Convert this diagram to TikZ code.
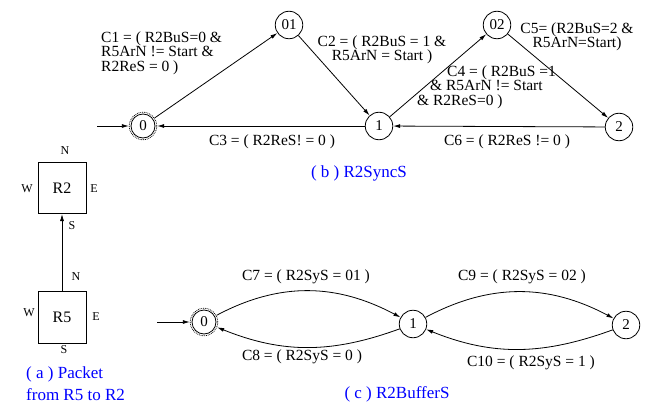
\documentclass[tikz,border=0pt]{standalone}
\usepackage{fontspec}
\setmainfont{Liberation Serif}
\newfontfamily\figfont{Liberation Serif}
\usetikzlibrary{arrows.meta}

\begin{document}
\begin{tikzpicture}[x=1pt,y=1pt,
  every node/.append style={font=\figfont},
  state/.style={draw,circle,inner sep=0pt,minimum size=27.5pt,line width=0.8pt,
    font=\figfont\fontsize{15}{15}\selectfont},
  startstate/.style={state,densely dotted},
  edge/.style={-{Latex[length=7pt,width=4pt]},line width=0.8pt},
  cond/.style={inner sep=0pt,font=\figfont\fontsize{15.5}{14.5}\selectfont},
  router/.style={draw,line width=1pt,minimum width=48pt,minimum height=51pt,
    font=\figfont\fontsize{16}{16}\selectfont},
  port/.style={inner sep=0pt,font=\figfont\fontsize{12}{12}\selectfont},
  caption/.style={inner sep=0pt,text=blue,font=\figfont\fontsize{17}{22}\selectfont}]
\useasboundingbox (0,0) rectangle (650,405);

%%% (a) packet from R5 to R2
\node[router] (r2) at (62,217) {R2};
\node[router,minimum height=52pt] (r5) at (62,88) {R5};
\node[port] (r2n) at (65,254) {N};
\node[port] (r2w) at (27,216) {W};
\node[port] (r2e) at (94,216) {E};
\node[port] (r2s) at (72,179) {S};
\node[port] (r5n) at (76,128) {N};
\node[port] (r5w) at (29,92) {W};
\node[port] (r5e) at (96,88) {E};
\node[port] (r5s) at (64,55) {S};
\draw[edge] (r5.north) -- (r2.south);
\node[caption,align=left,anchor=west] (capa) at (26,21) {( a ) Packet\\ from R5 to R2};

%%% (b) R2SyncS
\node[startstate] (b0) at (143,279) {0};
\draw[line width=0.8pt] (b0.center) circle (12);
\node[state] (b01) at (289,380) {01};
\node[state] (b1) at (379,279) {1};
\node[state] (b02) at (497,380) {02};
\node[state] (b2) at (619,278) {2};
\coordinate (bin) at (97,279);
\draw[edge] (bin) -- (b0);
\draw[edge] (b0) -- (b01);
\draw[edge] (b01) -- (b1);
\draw[edge] (b1) -- (b02);
\draw[edge] (b02) -- (b2);
\draw[edge] (b1) -- (b0);
\draw[edge] (b2) -- (b1);
\node[cond,align=left,anchor=west] (c1) at (101,352) {C1 = ( R2BuS=0 \&\\ R5ArN != Start \&\\ R2ReS = 0 )};
\node[cond,align=center] (c2) at (382,355) {C2 = ( R2BuS = 1 \&\\ R5ArN = Start )};
\node[cond] (c3) at (272,263) {C3 = ( R2ReS! = 0 )};
\node[cond,align=left,anchor=west] (c4) at (417,318) {\hspace*{30pt}C4 = ( R2BuS =1\\ \hspace*{13pt}\& R5ArN != Start\\ \& R2ReS=0 )};
\node[cond,align=center] (c5) at (577,368) {C5= (R2BuS=2 \&\\ R5ArN=Start)};
\node[cond] (c6) at (507,263) {C6 = ( R2ReS != 0 )};
\node[caption] (capb) at (359,232) {( b ) R2SyncS};

%%% (c) R2BufferS
\node[startstate] (c0s) at (204,83) {0};
\draw[line width=0.8pt] (c0s.center) circle (12);
\node[state] (c1s) at (413,81) {1};
\node[state] (c2s) at (626,80) {2};
\coordinate (cin) at (157,83);
\draw[edge] (cin) -- (c0s);
\draw[edge] (c0s) to[out=28,in=152] (c1s);
\draw[edge] (c1s) to[out=200,in=-22] (c0s);
\draw[edge] (c1s) to[out=28,in=152] (c2s);
\draw[edge] (c2s) to[out=200,in=-22] (c1s);
\node[cond] (c7) at (306,128) {C7 = ( R2SyS = 01 )};
\node[cond] (c8) at (302,48) {C8 = ( R2SyS = 0 )};
\node[cond] (c9) at (522,128) {C9 = ( R2SyS = 02 )};
\node[cond] (c10) at (531,42) {C10 = ( R2SyS = 1 )};
\node[caption] (capc) at (397,11) {( c ) R2BufferS};
\end{tikzpicture}
\end{document}
